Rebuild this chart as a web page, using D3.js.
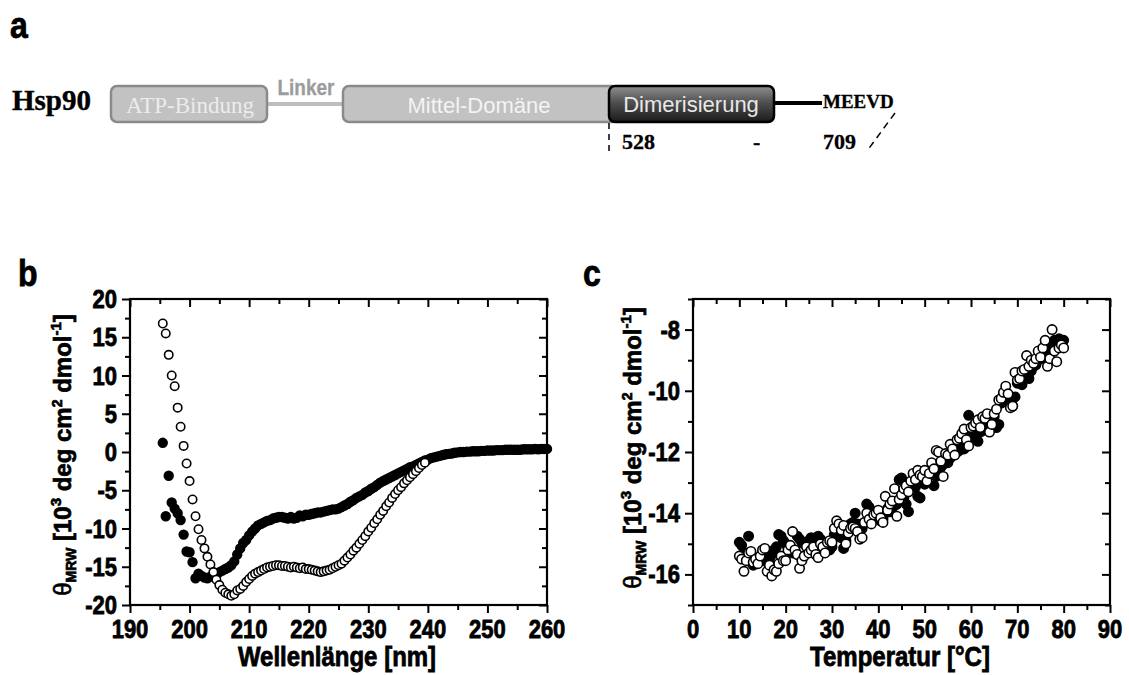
<!DOCTYPE html>
<html>
<head>
<meta charset="utf-8">
<script src="https://cdn.jsdelivr.net/npm/d3@7"></script>
<style>
    body { margin: 0; background: #fff; }
    svg { display: block; font-family: "Liberation Sans", Arial, sans-serif; }
</style>
</head>
<body>
<svg id="fig" width="1129" height="675"></svg>
<script>
// ---- data: panel b, CD spectra (10^3 deg cm2 dmol-1), every 0.5 nm from 195.5 nm ----
const wlStart = 195.5, wlStep = 0.5;
const cdFilled = [
    1.2, -8.4, -3.1, -6.6, -7.4, -8.0, -8.9, -10.8, -13.0, -13.1,
    -14.4, -16.5, -15.9, -16.2, -16.4, -16.5, -16.3, -16.1, -16.0, -15.7,
    -15.5, -15.3, -15.1, -14.8, -14.3, -13.4, -12.6, -11.9, -11.5, -10.9,
    -10.4, -10.0, -9.6, -9.4, -9.2, -9.0, -8.9, -8.7, -8.6, -8.5,
    -8.5, -8.6, -8.7, -8.5, -8.7, -8.6, -8.3, -8.4, -8.2, -8.2,
    -8.1, -8.0, -7.9, -7.9, -7.8, -7.7, -7.6, -7.5, -7.5, -7.4,
    -7.2, -7.0, -6.8, -6.5, -6.3, -6.0, -5.8, -5.6, -5.3, -5.1,
    -4.8, -4.6, -4.3, -4.0, -3.8, -3.6, -3.4, -3.2, -3.0, -2.8,
    -2.6, -2.4, -2.2, -2.0, -1.9, -1.7, -1.5, -1.3, -1.1, -1.0,
    -0.8, -0.7, -0.6, -0.5, -0.4, -0.3, -0.25, -0.2, -0.1, -0.05,
    0.0, 0.0, 0.05, 0.05, 0.1, 0.1, 0.1, 0.15, 0.15, 0.2,
    0.2, 0.2, 0.25, 0.25, 0.25, 0.3, 0.3, 0.3, 0.3, 0.3,
    0.3, 0.35, 0.35, 0.35, 0.35, 0.4, 0.35, 0.4, 0.4, 0.4
];
const cdOpen = [
    16.8, 15.5, 12.7, 10.0, 8.6, 5.8, 3.3, 0.8, -1.5, -3.8,
    -6.2, -8.4, -10.1, -11.5, -12.6, -13.7, -14.7, -15.7, -16.7, -17.4,
    -18.0, -18.4, -18.6, -18.8, -18.6, -18.1, -17.9, -17.5, -17.0, -16.6,
    -16.2, -15.9, -15.7, -15.5, -15.3, -15.1, -15.0, -14.9, -14.8, -14.8,
    -14.9, -14.9, -15.0, -15.1, -15.0, -15.1, -15.2, -15.1, -15.3, -15.3,
    -15.4, -15.5, -15.6, -15.7, -15.6, -15.5, -15.4, -15.2, -15.0, -14.8,
    -14.6, -14.2, -13.8, -13.4, -12.9, -12.5, -12.0, -11.5, -11.0, -10.4,
    -9.9, -9.3, -8.8, -8.2, -7.7, -7.1, -6.6, -6.0, -5.5, -5.0,
    -4.6, -4.1, -3.7, -3.3, -2.9, -2.5, -2.1, -1.7, -1.4
];

// ---- data: panel c, thermal transition, every 0.5 °C from 10 °C ----
const tStart = 10, tStep = 0.5;
const meltFilled = [
    -14.95, -15.05, -15.3, -15.45, -14.75, -15.6, -15.7, -15.55, -15.5, -15.45,
    -15.4, -15.55, -15.6, -15.5, -15.35, -15.2, -15.1, -14.7, -14.75, -14.9,
    -15.0, -15.1, -15.25, -15.3, -15.2, -14.75, -14.85, -14.95, -15.0, -15.05,
    -14.9, -14.8, -15.0, -14.95, -14.75, -14.85, -15.1, -15.2, -15.15, -15.2,
    -15.1, -14.7, -14.6, -14.75, -14.8, -15.15, -14.9, -14.5, -14.35, -14.3,
    -14.0, -14.35, -14.4, -14.5, -14.3, -13.7, -13.8, -14.05, -14.1, -14.0,
    -14.1, -14.25, -14.2, -14.0, -13.85, -13.95, -13.8, -13.75, -13.7, -12.9,
    -12.85, -13.5, -13.7, -13.95, -13.1, -13.0, -13.15, -13.45, -13.5, -13.0,
    -13.05, -12.75, -12.6, -12.55, -13.1, -12.8, -12.65, -12.5, -12.4, -12.3,
    -12.35, -12.2, -12.1, -11.95, -12.0, -11.95, -11.8, -11.9, -11.4, -10.8,
    -11.5, -11.4, -11.45, -11.65, -11.35, -11.3, -11.2, -11.15, -11.0, -10.9,
    -10.85, -11.2, -11.1, -10.4, -10.1, -10.05, -10.3, -10.45, -10.5, -10.2,
    -9.75, -9.7, -9.8, -9.5, -9.55, -9.6, -9.35, -9.2, -9.15, -9.0,
    -8.95, -8.8, -8.5, -8.45, -8.7, -8.6, -8.35, -8.4, -8.3, -8.35,
    -8.35
];
const meltOpen = [
    -15.4, -15.5, -15.9, -15.55, -15.3, -15.25, -15.6, -15.5, -15.65, -15.4,
    -15.2, -15.15, -15.9, -15.7, -16.05, -15.85, -15.9, -15.65, -15.4, -15.55,
    -15.55, -15.2, -15.05, -14.6, -15.2, -15.35, -15.8, -15.55, -15.4, -15.1,
    -15.3, -15.2, -15.1, -15.35, -15.45, -15.0, -15.1, -15.3, -14.95, -14.9,
    -14.95, -14.5, -14.25, -14.35, -14.55, -14.4, -15.0, -14.65, -14.5, -14.45,
    -14.5, -14.6, -14.85, -14.8, -14.3, -14.0, -14.2, -14.35, -14.05, -14.0,
    -13.9, -14.15, -14.3, -13.45, -13.9, -13.7, -13.6, -13.2, -14.1, -13.55,
    -13.4, -13.2, -13.1, -13.3, -12.95, -12.7, -12.9, -12.6, -12.75, -12.8,
    -12.6, -12.95, -12.7, -12.35, -12.55, -11.95, -12.0, -12.3, -12.8, -12.05,
    -12.1, -11.75, -11.9, -12.1, -11.6, -11.55, -11.4, -11.25, -11.6, -11.8,
    -11.2, -11.15, -11.05, -10.95, -11.2, -10.85, -10.9, -10.75, -11.35, -11.1,
    -10.75, -10.6, -10.3, -10.25, -10.05, -9.85, -10.1, -10.55, -10.5, -9.4,
    -9.65, -9.6, -9.35, -9.3, -8.85, -9.2, -9.0, -9.1, -8.95, -8.7,
    -8.9, -8.6, -8.35, -9.2, -8.95, -8.0, -8.7, -9.05, -8.6, -8.5,
    -8.6
];

// ---- ticks ----
const bXMajor = [190, 200, 210, 220, 230, 240, 250, 260];
const bXMinor = [195, 205, 215, 225, 235, 245, 255];
const bYMajor = [-20, -15, -10, -5, 0, 5, 10, 15, 20];
const bYMinor = [-17.5, -12.5, -7.5, -2.5, 2.5, 7.5, 12.5, 17.5];
const cXMajor = [0, 10, 20, 30, 40, 50, 60, 70, 80, 90];
const cXMinor = [5, 15, 25, 35, 45, 55, 65, 75, 85];
const cYMajor = [-16, -14, -12, -10, -8];
const cYMinor = [-17, -15, -13, -11, -9, -7];

// ---- panel a labels ----
const domainNames = ["ATP-Bindung", "Mittel-Domäne", "Dimerisierung"];
const residueLabels = ["528", "-", "709"];

const svg = d3.select("#fig");
const stretch = 1.15;   // the figure's lettering is a bit taller than it is wide
const heavy = 0.7;      // extra outline so the bold text reads as heavy as the scan

function label(g, x, y, txt, size, anchor) {
    return g.append("text")
        .attr("transform", `translate(${x},${y}) scale(1,${stretch})`)
        .attr("text-anchor", anchor || "middle")
        .style("font-size", size + "px")
        .style("font-weight", "bold")
        .attr("fill", "#000")
        .attr("stroke", "#000")
        .attr("stroke-width", heavy)
        .text(txt);
}

// ================= panel a =================
const a = svg.append("g");
const grad = svg.append("defs").append("linearGradient")
    .attr("id", "dimGrad")
    .attr("x1", 0).attr("y1", 0).attr("x2", 0).attr("y2", 1);
grad.append("stop").attr("offset", "0%").attr("stop-color", "#909090");
grad.append("stop").attr("offset", "45%").attr("stop-color", "#505050");
grad.append("stop").attr("offset", "100%").attr("stop-color", "#1a1a1a");

label(svg, 10, 38, "a", 32, "start");

const serifBold = sel => sel
    .style("font-family", "'Liberation Serif', 'Times New Roman', serif")
    .style("font-weight", "bold");

a.append("text")
    .attr("x", 12).attr("y", 110)
    .style("font-size", "29px")
    .attr("stroke", "#000").attr("stroke-width", 0.4)
    .call(serifBold)
    .text("Hsp90");

// linker and C-terminal tail
a.append("line")
    .attr("x1", 266).attr("x2", 345).attr("y1", 104).attr("y2", 104)
    .attr("stroke", "#bdbdbd").attr("stroke-width", 4);
a.append("line")
    .attr("x1", 772).attr("x2", 822).attr("y1", 103).attr("y2", 103)
    .attr("stroke", "#000").attr("stroke-width", 4);

a.append("rect")
    .attr("x", 111).attr("y", 86).attr("width", 156).attr("height", 36).attr("rx", 6)
    .attr("fill", "#c2c2c2").attr("stroke", "#8a8a8a").attr("stroke-width", 2.5);
a.append("rect")
    .attr("x", 343).attr("y", 86).attr("width", 275).attr("height", 36).attr("rx", 6)
    .attr("fill", "#c2c2c2").attr("stroke", "#8a8a8a").attr("stroke-width", 2.5);
a.append("rect")
    .attr("x", 609).attr("y", 86).attr("width", 165).attr("height", 36).attr("rx", 6)
    .attr("fill", "url(#dimGrad)").attr("stroke", "#000").attr("stroke-width", 2.5);

a.append("text")
    .attr("x", 190).attr("y", 113)
    .attr("text-anchor", "middle")
    .style("font-family", "'Liberation Serif', 'Times New Roman', serif")
    .style("font-size", "23px")
    .attr("fill", "#ececec")
    .text(domainNames[0]);
a.append("text")
    .attr("x", 479).attr("y", 113)
    .attr("text-anchor", "middle")
    .style("font-size", "22px")
    .attr("fill", "#f4f4f4")
    .text(domainNames[1]);
a.append("text")
    .attr("x", 691).attr("y", 112)
    .attr("text-anchor", "middle")
    .style("font-size", "22px")
    .attr("fill", "#e8e8e8")
    .text(domainNames[2]);

label(a, 306, 95, "Linker", 19).attr("fill", "#9c9c9c").attr("stroke", "#9c9c9c").attr("stroke-width", 0.3);

a.append("text")
    .attr("x", 823).attr("y", 108)
    .style("font-size", "19px")
    .attr("stroke", "#000").attr("stroke-width", 0.3)
    .call(serifBold)
    .text("MEEVD");

[[622, residueLabels[0]], [753, residueLabels[1]], [823, residueLabels[2]]].forEach(([x, t]) => {
    a.append("text")
        .attr("x", x).attr("y", 149)
        .style("font-size", "22px")
        .attr("stroke", "#000").attr("stroke-width", 0.3)
        .call(serifBold)
        .text(t);
});

a.append("line")
    .attr("x1", 609).attr("x2", 609).attr("y1", 123).attr("y2", 154)
    .attr("stroke", "#000").attr("stroke-width", 1.5).attr("stroke-dasharray", "6,5");
a.append("line")
    .attr("x1", 895).attr("y1", 113).attr("x2", 867).attr("y2", 151)
    .attr("stroke", "#000").attr("stroke-width", 1.5).attr("stroke-dasharray", "7,5");

// ================= panels b and c =================
function addAxes(g, x, y, xMaj, xMin, yMaj, yMin) {
    const [left, right] = x.range();
    const [bottom, top] = y.range();

    // tick marks: out on bottom/left, in on top/right
    const specs = [
        [d3.axisBottom, x, `translate(0,${bottom})`, 1, xMaj, xMin],
        [d3.axisTop, x, `translate(0,${top})`, -1, xMaj, xMin],
        [d3.axisLeft, y, `translate(${left},0)`, 1, yMaj, yMin],
        [d3.axisRight, y, `translate(${right},0)`, -1, yMaj, yMin]
    ];
    specs.forEach(([axisFn, sc, tr, dir, maj, min]) => {
        g.append("g").attr("transform", tr)
            .call(axisFn(sc).tickValues(maj).tickSize(8 * dir).tickSizeOuter(0).tickFormat(""));
        g.append("g").attr("transform", tr)
            .call(axisFn(sc).tickValues(min).tickSize(5 * dir).tickSizeOuter(0).tickFormat(""));
    });
    g.selectAll(".domain").remove();
    g.selectAll(".tick text").remove();
    g.selectAll(".tick line").attr("stroke", "#000").attr("stroke-width", 2);

    // tick labels
    xMaj.forEach(d => label(g, x(d), bottom + 33, String(d), 22));
    yMaj.forEach(d => label(g, left - 13, y(d) + 9, String(d), 22, "end"));

    g.append("rect")
        .attr("x", left).attr("y", top)
        .attr("width", right - left).attr("height", bottom - top)
        .attr("fill", "none").attr("stroke", "#000").attr("stroke-width", 2.2);
}

function addYTitle(g, x, y) {
    const t = g.append("text")
        .attr("transform", `translate(${x},${y}) rotate(-90)`)
        .attr("text-anchor", "middle")
        .style("font-size", "24px")
        .style("font-weight", "bold")
        .attr("stroke", "#000")
        .attr("stroke-width", heavy);
    t.append("tspan").style("font-weight", "normal").text("θ");
    t.append("tspan").attr("dy", 5).style("font-size", "14px").text("MRW");
    t.append("tspan").attr("dy", -5).text(" [10");
    t.append("tspan").attr("dy", -10).style("font-size", "15px").text("3");
    t.append("tspan").attr("dy", 10).text(" deg cm");
    t.append("tspan").attr("dy", -9).style("font-size", "14px").text("2");
    t.append("tspan").attr("dy", 9).text(" dmol");
    t.append("tspan").attr("dy", -10).style("font-size", "15px").text("-1");
    t.append("tspan").attr("dy", 10).text("]");
}

function addSeries(g, x, y, xs, vs, filled, r) {
    g.append("g")
        .selectAll("circle")
        .data(vs.map((v, i) => [xs[i], v]))
        .join("circle")
        .attr("cx", d => x(d[0]))
        .attr("cy", d => y(d[1]))
        .attr("r", r)
        .attr("fill", filled ? "#000" : "#fff")
        .attr("stroke", "#000")
        .attr("stroke-width", 1.6);
}

// ---- panel b ----
const bx = d3.scaleLinear().domain([190, 260]).range([130, 547]);
const by = d3.scaleLinear().domain([-20, 20]).range([605, 299]);
const b = svg.append("g");
const cdWl = cdFilled.map((_, i) => wlStart + i * wlStep);

addSeries(b, bx, by, cdWl, cdFilled, true, 4.4);
addSeries(b, bx, by, cdWl, cdOpen, false, 4.2);
addAxes(b, bx, by, bXMajor, bXMinor, bYMajor, bYMinor);
addYTitle(b, 71, 455);
label(b, 337, 666, "Wellenlänge [nm]", 24);
label(svg, 18, 286, "b", 32, "start");

// ---- panel c ----
const cx = d3.scaleLinear().domain([0, 90]).range([693, 1110]);
const cy = d3.scaleLinear().domain([-17, -7]).range([605, 299]);
const c = svg.append("g");
const temps = meltFilled.map((_, i) => tStart + i * tStep);

addSeries(c, cx, cy, temps, meltFilled, true, 4.7);
addSeries(c, cx, cy, temps, meltOpen, false, 4.7);
addAxes(c, cx, cy, cXMajor, cXMinor, cYMajor, cYMinor);
addYTitle(c, 641, 448);
label(c, 900, 666, "Temperatur [°C]", 24);
label(svg, 583, 286, "c", 32, "start");
</script>
</body>
</html>
